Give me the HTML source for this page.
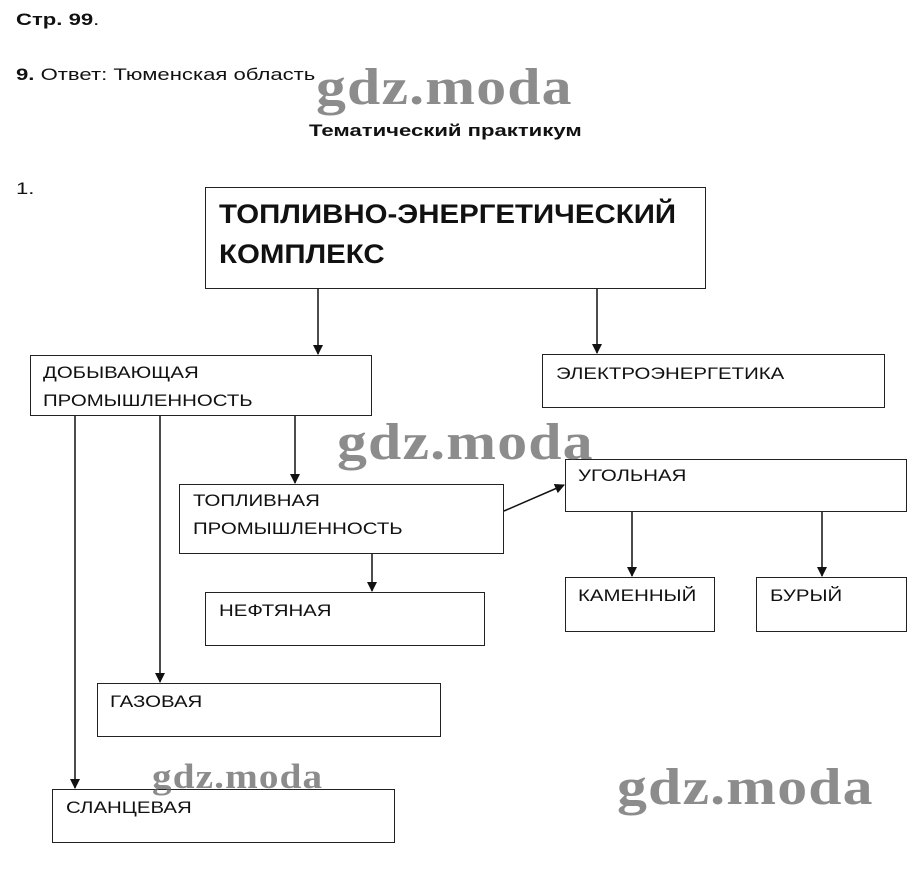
<!DOCTYPE html>
<html><head><meta charset="utf-8"><style>
body{margin:0;width:919px;height:896px;background:#fff;position:relative;font-family:"Liberation Sans",Arial,sans-serif;color:#111;overflow:hidden}
.t{position:absolute;font-size:17px;white-space:nowrap;transform-origin:0 0;transform:scaleX(1.3)}
.b{position:absolute;border:1px solid #222;box-sizing:border-box;background:#fff}
.l{position:absolute;font-size:17px;line-height:28px;white-space:nowrap;transform-origin:0 0;transform:scaleX(1.2)}
.w{position:absolute;font-family:"Liberation Serif",serif;font-weight:bold;color:#666;opacity:.75;white-space:nowrap;letter-spacing:1px;transform-origin:0 0;transform:scaleX(1.15)}
</style></head><body>
<div class="t" style="left:16px;top:10px"><b>Стр. 99</b>.</div>
<div class="t" style="left:16px;top:65px"><b>9.</b> Ответ: Тюменская область</div>
<div class="t" style="left:309px;top:121px;font-weight:bold">Тематический практикум</div>
<div class="t" style="left:16px;top:179px">1.</div>

<div class="b" style="left:205px;top:187px;width:501px;height:102px"></div>
<div class="l" style="left:219px;top:194px;font-size:27px;font-weight:bold;line-height:40px;transform:scaleX(1.09)">ТОПЛИВНО-ЭНЕРГЕТИЧЕСКИЙ<br>КОМПЛЕКС</div>
<div class="b" style="left:30px;top:355px;width:342px;height:61px"></div>
<div class="l" style="left:43px;top:359px">ДОБЫВАЮЩАЯ<br>ПРОМЫШЛЕННОСТЬ</div>
<div class="b" style="left:542px;top:354px;width:343px;height:54px"></div>
<div class="l" style="left:556px;top:360px">ЭЛЕКТРОЭНЕРГЕТИКА</div>
<div class="b" style="left:179px;top:484px;width:325px;height:70px"></div>
<div class="l" style="left:193px;top:487px">ТОПЛИВНАЯ<br>ПРОМЫШЛЕННОСТЬ</div>
<div class="b" style="left:565px;top:459px;width:342px;height:53px"></div>
<div class="l" style="left:578px;top:462px">УГОЛЬНАЯ</div>
<div class="b" style="left:205px;top:592px;width:280px;height:54px"></div>
<div class="l" style="left:219px;top:597px">НЕФТЯНАЯ</div>
<div class="b" style="left:565px;top:577px;width:150px;height:55px"></div>
<div class="l" style="left:578px;top:582px">КАМЕННЫЙ</div>
<div class="b" style="left:756px;top:577px;width:151px;height:55px"></div>
<div class="l" style="left:770px;top:582px">БУРЫЙ</div>
<div class="b" style="left:97px;top:683px;width:344px;height:54px"></div>
<div class="l" style="left:110px;top:688px">ГАЗОВАЯ</div>
<div class="b" style="left:52px;top:789px;width:343px;height:54px"></div>
<div class="l" style="left:66px;top:794px">СЛАНЦЕВАЯ</div>

<svg width="919" height="896" style="position:absolute;left:0;top:0" xmlns="http://www.w3.org/2000/svg">
<defs><marker id="a" markerWidth="10" markerHeight="10" refX="9" refY="5" orient="auto" markerUnits="userSpaceOnUse"><path d="M0,0 L10,5 L0,10 z" fill="#111"/></marker></defs>
<g stroke="#111" stroke-width="1.5" marker-end="url(#a)">
<line x1="318" y1="289" x2="318" y2="354"/>
<line x1="597" y1="289" x2="597" y2="353"/>
<line x1="295" y1="416" x2="295" y2="483"/>
<line x1="372" y1="554" x2="372" y2="591"/>
<line x1="160" y1="416" x2="160" y2="682"/>
<line x1="75" y1="416" x2="75" y2="788"/>
<line x1="504" y1="511" x2="564" y2="485"/>
<line x1="632" y1="512" x2="632" y2="576"/>
<line x1="822" y1="512" x2="822" y2="576"/>
</g></svg>

<div class="w" style="left:316px;top:58px;font-size:52px">gdz.moda</div>
<div class="w" style="left:337px;top:413px;font-size:52px">gdz.moda</div>
<div class="w" style="left:152px;top:757px;font-size:35px;transform:scaleX(1.12)">gdz.moda</div>
<div class="w" style="left:617px;top:758px;font-size:52px">gdz.moda</div>
</body></html>
